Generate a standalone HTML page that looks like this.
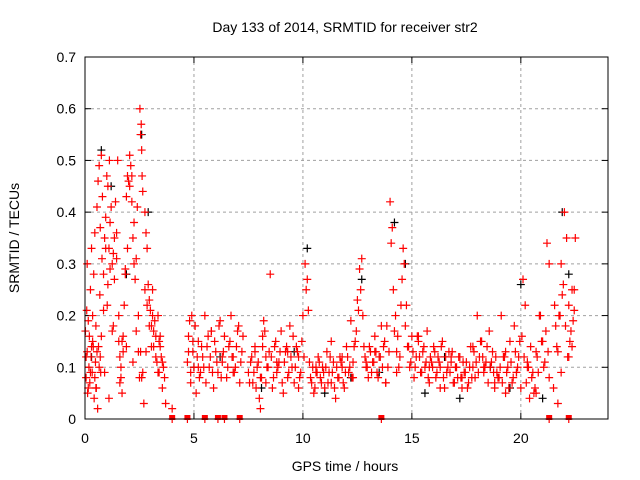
<!DOCTYPE html>
<html><head><meta charset="utf-8"><style>
body{margin:0;background:#fff;}
svg{display:block;font-family:"Liberation Sans",sans-serif;}
</style></head><body>
<svg id="chart" width="640" height="480">
<text x="345" y="32" text-anchor="middle" font-size="14">Day 133 of 2014, SRMTID for receiver str2</text>
<text x="345" y="471" text-anchor="middle" font-size="14">GPS time / hours</text>
<text transform="translate(19,238) rotate(-90)" text-anchor="middle" font-size="14">SRMTID / TECUs</text>
<g id="grid"></g><g id="ticks"></g><g id="marks"></g>
<rect x="85" y="57" width="523" height="362" fill="none" stroke="#000" stroke-width="1"/>
</svg>
<script>
const xTicks=[0,5,10,15,20];
const yTicks=[0,0.1,0.2,0.3,0.4,0.5,0.6,0.7];
const yTickLabels=["0","0.1","0.2","0.3","0.4","0.5","0.6","0.7"];
const redHours=[0.02,0.05,0.08,0.1,0.12,0.15,0.18,0.2,0.22,0.25,0.28,0.3,0.33,0.35,0.38,0.4,0.42,0.45,0.48,0.5,0.52,0.55,0.58,0.6,0.62,0.65,0.68,0.7,0.72,0.75,0.78,0.8,0.85,0.9,0.95,1.0,1.02,1.05,1.1,1.12,1.15,1.2,1.25,1.3,1.35,1.4,1.45,1.5,1.55,1.6,1.65,1.7,1.75,1.8,1.85,1.9,1.95,2.0,2.05,2.1,2.15,2.2,2.25,2.3,2.35,2.4,2.45,2.5,2.52,2.55,2.58,2.6,2.62,2.65,2.7,2.75,2.8,2.85,2.9,2.95,3.0,3.05,3.1,3.15,3.2,3.25,3.3,3.35,3.4,3.45,3.5,3.55,3.6,3.65,3.7,4.0,
4.7,4.75,4.8,4.85,4.9,4.95,5.0,5.05,5.1,5.2,5.3,5.4,5.5,5.55,5.6,5.7,5.8,5.9,6.0,6.1,6.2,6.3,6.4,6.5,6.6,6.7,6.8,6.9,7.0,7.1,7.2,
7.5,7.6,7.7,7.8,7.9,8.0,8.05,8.1,8.15,8.2,8.3,8.4,8.5,8.6,8.7,8.8,8.9,9.0,9.1,9.2,9.3,9.4,9.5,9.6,9.7,9.8,9.9,10.0,10.1,10.15,10.2,10.25,10.3,10.4,10.5,10.6,10.7,10.8,10.9,11.0,11.1,11.2,11.3,11.4,11.5,11.6,11.7,11.8,11.9,12.0,12.1,12.2,12.3,12.4,12.5,12.6,12.65,12.7,12.75,12.8,12.9,13.0,13.1,13.2,13.3,13.4,13.5,13.6,13.7,13.8,13.9,14.0,14.05,14.1,14.15,14.2,14.3,14.4,14.5,14.55,14.6,14.65,14.7,14.8,14.9,15.0,15.1,15.2,15.3,15.4,15.5,15.6,15.7,15.8,15.9,16.0,16.1,16.2,16.3,16.4,16.5,16.6,16.7,16.8,16.9,17.0,17.1,17.2,17.3,17.4,17.5,17.6,17.7,17.8,17.9,18.0,18.1,18.2,18.3,18.4,18.5,18.6,18.7,18.8,18.9,19.0,19.1,19.2,19.3,19.4,19.5,19.6,19.7,19.8,19.9,20.0,20.05,20.1,20.2,20.3,20.4,20.5,20.6,20.7,20.8,20.9,21.0,21.1,21.15,21.2,21.3,21.5,21.6,21.7,21.8,21.85,21.9,21.95,22.0,22.1,22.2,22.3,22.35,22.4,22.45,22.5,
0.1,0.3,0.5,0.7,0.9,1.1,1.3,1.6,1.9,2.2,2.6,2.8,3.1,3.4,5.2,5.8,6.3,6.8,7.8,8.3,8.8,9.3,9.8,10.6,11.3,11.8,12.3,12.9,13.3,13.8,14.3,15.3,15.8,16.3,16.8,17.3,17.8,18.3,18.8,19.3,19.8,20.3,20.7,21.3,21.7,22.2,
1.7,4.0,4.7,5.5,6.1,6.4,7.1,13.6,21.3,22.2];
const redValues=[0.17,0.08,0.21,0.13,0.05,0.19,0.1,0.16,0.07,0.25,0.12,0.33,0.09,0.2,0.14,0.28,0.04,0.36,0.11,0.18,0.06,0.41,0.02,0.46,0.14,0.49,0.24,0.37,0.09,0.51,0.31,0.43,0.28,0.35,0.39,0.47,0.22,0.45,0.33,0.5,0.29,0.41,0.17,0.32,0.27,0.42,0.36,0.5,0.2,0.12,0.08,0.05,0.16,0.22,0.29,0.43,0.47,0.46,0.51,0.49,0.42,0.35,0.3,0.27,0.17,0.41,0.13,0.08,0.6,0.55,0.57,0.52,0.47,0.44,0.03,0.4,0.36,0.33,0.26,0.23,0.21,0.18,0.25,0.14,0.19,0.16,0.11,0.2,0.09,0.14,0.12,0.06,0.1,0.08,0.03,0.02,
0.11,0.16,0.19,0.07,0.2,0.13,0.1,0.18,0.05,0.15,0.09,0.12,0.2,0.07,0.14,0.1,0.17,0.06,0.13,0.09,0.19,0.11,0.16,0.08,0.14,0.2,0.12,0.1,0.17,0.07,0.13,
0.09,0.11,0.07,0.13,0.1,0.04,0.02,0.08,0.16,0.19,0.12,0.1,0.28,0.06,0.14,0.09,0.11,0.17,0.05,0.13,0.08,0.18,0.1,0.07,0.14,0.12,0.09,0.2,0.3,0.25,0.27,0.21,0.11,0.07,0.05,0.09,0.12,0.08,0.1,0.06,0.13,0.09,0.07,0.11,0.04,0.08,0.12,0.1,0.06,0.14,0.09,0.19,0.11,0.15,0.23,0.29,0.25,0.31,0.2,0.14,0.1,0.08,0.13,0.11,0.16,0.09,0.12,0.18,0.14,0.07,0.1,0.42,0.34,0.37,0.25,0.17,0.13,0.1,0.22,0.27,0.33,0.3,0.18,0.14,0.1,0.16,0.08,0.12,0.15,0.09,0.13,0.1,0.17,0.07,0.11,0.14,0.08,0.12,0.1,0.15,0.06,0.09,0.13,0.11,0.07,0.1,0.08,0.12,0.06,0.09,0.11,0.07,0.14,0.1,0.08,0.2,0.12,0.15,0.09,0.11,0.07,0.1,0.13,0.06,0.09,0.08,0.2,0.12,0.05,0.1,0.15,0.07,0.18,0.09,0.12,0.06,0.16,0.27,0.22,0.1,0.04,0.08,0.05,0.13,0.09,0.2,0.15,0.11,0.17,0.34,0.3,0.06,0.18,0.13,0.2,0.3,0.24,0.26,0.4,0.35,0.22,0.17,0.14,0.19,0.25,0.35,0.3,
0.14,0.06,0.12,0.09,0.04,0.18,0.07,0.14,0.11,0.08,0.13,0.2,0.15,0.1,0.17,0.12,0.09,0.14,0.07,0.11,0.13,0.06,0.1,0.15,0.12,0.08,0.11,0.13,0.07,0.09,0.16,0.1,0.06,0.12,0.08,0.14,0.1,0.07,0.13,0.09,0.11,0.05,0.08,0.03,0.12,0.15,
0,0,0,0,0,0,0,0,0,0];
const redHours2=[0.05,0.15,0.25,0.35,0.45,0.55,0.65,0.75,0.85,0.95,1.05,1.15,1.25,1.35,1.45,1.55,1.65,1.75,1.85,1.95,2.05,2.15,2.25,2.35,2.45,2.55,2.65,2.75,2.85,2.95,3.05,3.15,3.25,3.35,3.45,3.55,
4.75,4.85,4.95,5.05,5.15,5.25,5.35,5.45,5.65,5.75,5.85,5.95,6.05,6.15,6.25,6.35,6.55,6.65,6.75,6.85,6.95,7.05,7.15,7.25,
7.55,7.65,7.75,7.85,7.95,8.05,8.15,8.25,8.35,8.45,8.55,8.65,8.75,8.85,8.95,9.05,9.15,9.25,9.35,9.45,9.55,9.65,9.75,9.85,9.95,10.05,10.35,10.45,10.55,10.65,10.75,10.85,10.95,11.05,11.15,11.25,11.35,11.45,11.55,11.65,11.75,11.85,11.95,12.05,12.15,12.25,12.35,12.45,12.55,12.85,12.95,13.05,13.15,13.25,13.35,13.45,13.55,13.65,13.75,13.85,13.95,14.25,14.35,14.45,14.75,14.85,14.95,15.05,15.15,15.25,15.35,15.45,15.55,15.65,15.75,15.85,15.95,16.05,16.15,16.25,16.35,16.45,16.55,16.65,16.75,16.85,16.95,17.05,17.15,17.25,17.35,17.45,17.55,17.65,17.75,17.85,17.95,18.05,18.15,18.25,18.35,18.45,18.55,18.65,18.75,18.85,18.95,19.05,19.15,19.25,19.35,19.45,19.55,19.65,19.75,19.85,19.95,20.15,20.25,20.35,20.45,20.55,20.65,20.75,20.85,20.95,21.05,21.25,21.55,21.65,21.75,21.85,22.05,22.15,22.25,22.35,22.45];
const redValues2=[0.12,0.06,0.09,0.15,0.08,0.13,0.1,0.16,0.21,0.33,0.26,0.38,0.3,0.35,0.31,0.15,0.1,0.13,0.28,0.33,0.45,0.47,0.38,0.31,0.2,0.13,0.09,0.25,0.22,0.18,0.14,0.17,0.12,0.09,0.16,0.11,
0.13,0.09,0.15,0.18,0.12,0.08,0.14,0.1,0.16,0.12,0.09,0.15,0.11,0.18,0.08,0.13,0.1,0.15,0.12,0.09,0.14,0.18,0.11,0.16,
0.07,0.12,0.09,0.06,0.11,0.08,0.14,0.17,0.1,0.13,0.12,0.08,0.15,0.1,0.13,0.07,0.11,0.14,0.09,0.12,0.16,0.1,0.13,0.08,0.15,0.12,0.08,0.1,0.06,0.09,0.11,0.07,0.09,0.1,0.07,0.12,0.09,0.06,0.1,0.08,0.11,0.07,0.09,0.12,0.1,0.08,0.14,0.17,0.21,0.12,0.1,0.14,0.09,0.11,0.13,0.08,0.12,0.1,0.15,0.18,0.13,0.2,0.16,0.12,0.22,0.14,0.11,0.13,0.1,0.16,0.12,0.09,0.14,0.11,0.08,0.12,0.1,0.13,0.09,0.11,0.14,0.08,0.12,0.1,0.09,0.13,0.07,0.1,0.12,0.08,0.11,0.09,0.06,0.1,0.08,0.13,0.11,0.09,0.15,0.12,0.1,0.14,0.17,0.11,0.09,0.12,0.08,0.1,0.07,0.12,0.09,0.06,0.11,0.08,0.13,0.1,0.15,0.12,0.07,0.1,0.14,0.09,0.06,0.12,0.2,0.15,0.1,0.13,0.22,0.14,0.2,0.09,0.18,0.12,0.15,0.25,0.21,0.13,0.18,0.28,0.16,0.12];
const blackHours=[0.3,0.75,1.2,1.9,2.6,2.9,5.0,6.2,8.1,9.6,10.2,11.0,12.2,12.7,13.5,14.2,14.7,15.6,16.5,17.2,18.6,19.5,20.0,21.0,21.9,22.2];
const blackValues=[0.12,0.52,0.45,0.28,0.55,0.4,0.1,0.12,0.06,0.13,0.33,0.05,0.08,0.27,0.09,0.38,0.3,0.05,0.12,0.04,0.1,0.06,0.26,0.04,0.4,0.28];
const X0=85,X1=608,Y0=419,Y1=57,XMAX=24,YMAX=0.7;
function xs(h){return X0+(X1-X0)*h/XMAX;}
function ys(v){return Y0-(Y0-Y1)*v/YMAX;}
const NS="http://www.w3.org/2000/svg";
const grid=document.getElementById('grid'),ticks=document.getElementById('ticks'),marks=document.getElementById('marks');
function mk(t,a,p){const e=document.createElementNS(NS,t);for(const k in a)e.setAttribute(k,a[k]);p.appendChild(e);return e;}
yTicks.forEach((v,i)=>{
  if(v>0&&v<YMAX){const g=mk('line',{x1:X0,x2:X1,y1:ys(v),y2:ys(v),stroke:'#a0a0a0','stroke-dasharray':'3,3'},grid);
  
  }
  mk('line',{x1:X0,x2:X0+6,y1:ys(v),y2:ys(v),stroke:'#000'},ticks);
  mk('line',{x1:X1,x2:X1-6,y1:ys(v),y2:ys(v),stroke:'#000'},ticks);
  const t=mk('text',{x:X0-9,y:ys(v)+5,'text-anchor':'end','font-size':14},ticks);t.textContent=yTickLabels[i];
  
  
});
xTicks.forEach(h=>{
  if(h>0){const g=mk('line',{x1:xs(h),x2:xs(h),y1:Y0,y2:Y1,stroke:'#a0a0a0','stroke-dasharray':'3,3'},grid);
  
  }
  mk('line',{x1:xs(h),x2:xs(h),y1:Y0,y2:Y0-6,stroke:'#000'},ticks);
  mk('line',{x1:xs(h),x2:xs(h),y1:Y1,y2:Y1+6,stroke:'#000'},ticks);
  const t=mk('text',{x:xs(h),y:Y0+24,'text-anchor':'middle','font-size':14},ticks);t.textContent=h;
  
  
});
function plus(h,v,c,name){
  const x=xs(h),y=ys(v);
  const p=mk('path',{d:`M${x-4},${y}H${x+4}M${x},${y-4}V${y+4}`,stroke:c,'stroke-width':1.2,fill:'none'},marks);
  
  
}
blackHours.forEach((h,i)=>plus(h,blackValues[i],'#000','black-point'));
redHours.forEach((h,i)=>plus(h,redValues[i],'#ff0000','red-point'));
redHours2.forEach((h,i)=>plus(h,redValues2[i],'#ff0000','red-point'));
redHours.forEach((h,i)=>{if(redValues[i]===0){const r=mk('rect',{x:xs(h)-3,y:Y0-4,width:6,height:5,fill:'#ff0000'},marks);
  
  }});
</script>
</body></html>
